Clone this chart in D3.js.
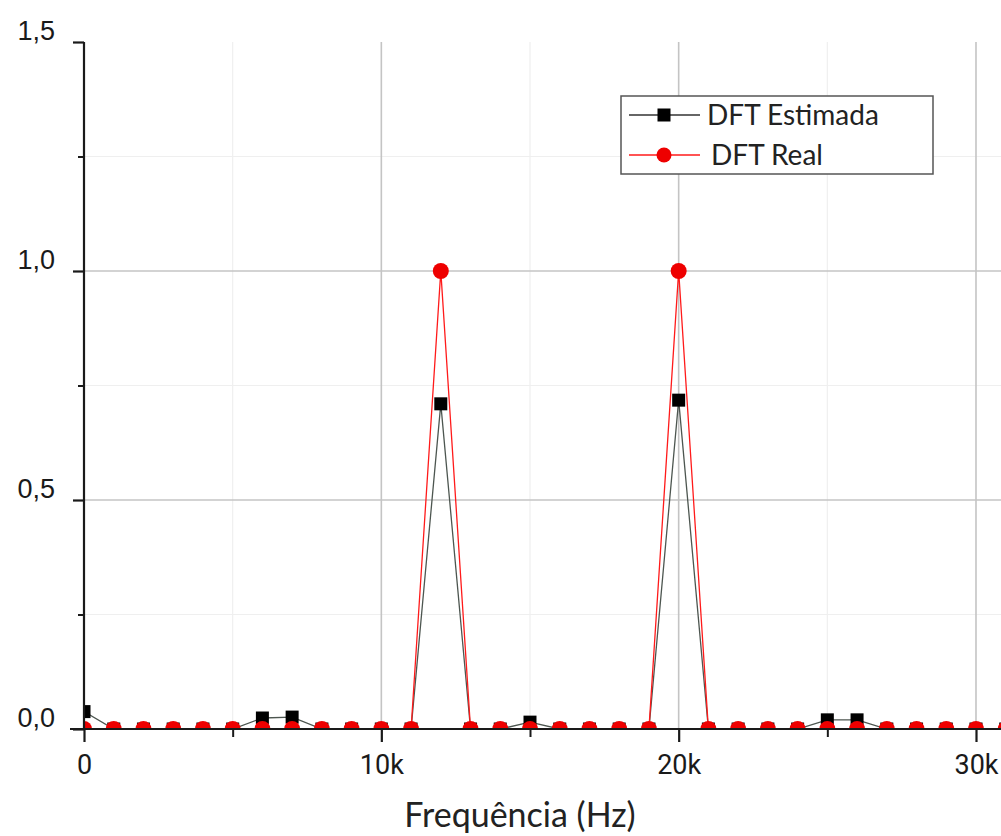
<!DOCTYPE html>
<html>
<head>
<meta charset="utf-8">
<script src="https://cdn.jsdelivr.net/npm/d3@7"></script>
<style>
  html, body { margin: 0; padding: 0; background: #fff; }
  svg { display: block; }
</style>
</head>
<body>
<svg id="chart" width="1001" height="836"></svg>
<script>
// ---- data ----
const freqs = [0,1000,2000,3000,4000,5000,6000,7000,8000,9000,10000,11000,12000,13000,14000,15000,16000,17000,18000,19000,20000,21000,22000,23000,24000,25000,26000,27000,28000,29000,30000,31000];
const dftEstimada = [0.038,0,0,0,0,0,0.024,0.026,0,0,0,0,0.71,0,0,0.015,0,0,0,0,0.718,0,0,0,0,0.02,0.02,0,0,0,0,0];
const dftReal = [0,0,0,0,0,0,0,0,0,0,0,0,1,0,0,0,0,0,0,0,1,0,0,0,0,0,0,0,0,0,0,0];
const xMajorTicks = [0,10000,20000,30000];
const xTickLabels = ["0","10k","20k","30k"];
const xMinorTicks = [5000,15000,25000];
const yMajorTicks = [0,0.5,1.0,1.5];
const yTickLabels = ["0,0","0,5","1,0","1,5"];
const yMinorTicks = [0.25,0.75,1.25];
const seriesNames = ["DFT Estimada","DFT Real"];
const xTitle = "Frequência (Hz)";

// ---- layout ----
const W = 1001, H = 836;
const x0 = 84, x30 = 976, yTop = 42, yBot = 729;
const x = d3.scaleLinear().domain([0,30000]).range([x0,x30]);
const y = d3.scaleLinear().domain([0,1.5]).range([yBot,yTop]);

const svg = d3.select("#chart");

// grid
const grid = svg.append("g");
grid.selectAll("line.vminor").data(xMinorTicks).join("line")
  .attr("x1", d=>x(d)).attr("x2", d=>x(d)).attr("y1", yTop).attr("y2", yBot)
  .attr("stroke", "#efefef").attr("stroke-width", 1.2);
grid.selectAll("line.hminor").data(yMinorTicks).join("line")
  .attr("x1", x0).attr("x2", W).attr("y1", d=>y(d)).attr("y2", d=>y(d))
  .attr("stroke", "#efefef").attr("stroke-width", 1.2);
grid.selectAll("line.vmajor").data(xMajorTicks.slice(1)).join("line")
  .attr("x1", d=>x(d)).attr("x2", d=>x(d)).attr("y1", yTop).attr("y2", yBot)
  .attr("stroke", "#c4c4c4").attr("stroke-width", 1.6);
grid.selectAll("line.hmajor").data([0.5,1.0]).join("line")
  .attr("x1", x0).attr("x2", W).attr("y1", d=>y(d)).attr("y2", d=>y(d))
  .attr("stroke", "#c4c4c4").attr("stroke-width", 1.6);

// clip
svg.append("defs").append("clipPath").attr("id","plotclip")
  .append("rect").attr("x", x0).attr("y", 0).attr("width", W - x0).attr("height", yBot + 0.5);

const plot = svg.append("g").attr("clip-path","url(#plotclip)");

const line = d3.line().x((d,i)=>x(freqs[i])).y(d=>y(d));

// Estimada series
plot.append("path").datum(dftEstimada)
  .attr("d", line).attr("fill","none").attr("stroke","#4d5650").attr("stroke-width",1.3);
plot.selectAll("rect.est").data(dftEstimada).join("rect")
  .attr("x",(d,i)=>x(freqs[i])-6.5).attr("y",d=>y(d)-6.5)
  .attr("width",13).attr("height",13).attr("fill","#000");

// Real series
plot.append("path").datum(dftReal)
  .attr("d", line).attr("fill","none").attr("stroke","#ff1a1a").attr("stroke-width",1.3);
plot.selectAll("circle.real").data(dftReal).join("circle")
  .attr("cx",(d,i)=>x(freqs[i])).attr("cy",d=>y(d))
  .attr("r",8).attr("fill","#ee0000");

// axes
const yAxis = d3.axisLeft(y).tickValues(yMajorTicks).tickSize(11).tickPadding(0)
  .tickFormat((d,i)=>yTickLabels[i]);
const gy = svg.append("g").attr("transform",`translate(${x0},0)`).call(yAxis);
gy.select(".domain").attr("stroke","#1a1a1a").attr("stroke-width",2.2)
  .attr("d",`M0,${yTop}V${yBot}`);
gy.selectAll(".tick line").attr("stroke","#1a1a1a").attr("stroke-width",2.2);
gy.selectAll(".tick text").attr("x",-29).attr("dy","-0.08em")
  .attr("font-family","'Liberation Sans', Arial, sans-serif").attr("font-size",27).attr("fill","#1a1a1a");
const yMinor = d3.axisLeft(y).tickValues(yMinorTicks).tickSize(6).tickFormat("");
const gym = svg.append("g").attr("transform",`translate(${x0},0)`).call(yMinor);
gym.select(".domain").remove();
gym.selectAll(".tick line").attr("stroke","#1a1a1a").attr("stroke-width",2);

const xAxis = d3.axisBottom(x).tickValues(xMajorTicks).tickSize(13).tickPadding(13)
  .tickFormat((d,i)=>xTickLabels[i]);
const gx = svg.append("g").attr("transform",`translate(0,${yBot})`).call(xAxis);
gx.select(".domain").attr("stroke","#1a1a1a").attr("stroke-width",1.8)
  .attr("d",`M${x0 - 14},0H${W}`);
gx.selectAll(".tick line").attr("stroke","#1a1a1a").attr("stroke-width",2.2);
gx.selectAll(".tick text")
  .attr("font-family","Roboto, 'Liberation Sans', sans-serif").attr("font-size",27).attr("fill","#1a1a1a");
const xMinor = d3.axisBottom(x).tickValues(xMinorTicks).tickSize(8).tickFormat("");
const gxm = svg.append("g").attr("transform",`translate(0,${yBot})`).call(xMinor);
gxm.select(".domain").remove();
gxm.selectAll(".tick line").attr("stroke","#1a1a1a").attr("stroke-width",2);

// axis title
svg.append("text").attr("x", 520).attr("y", 827).attr("text-anchor","middle")
  .attr("font-family","Lato, 'Open Sans', sans-serif").attr("font-size",34).attr("fill","#222")
  .text(xTitle);

// legend
const lg = svg.append("g");
lg.append("rect").attr("x",621).attr("y",96).attr("width",312).attr("height",78)
  .attr("fill","#fff").attr("stroke","#555").attr("stroke-width",1.5);
const rows = [{y:115, color:"#333", mark:"square", tx:707},{y:155, color:"#ff1a1a", mark:"circle", tx:711}];
rows.forEach((r,i)=>{
  lg.append("line").attr("x1",629).attr("x2",700).attr("y1",r.y).attr("y2",r.y)
    .attr("stroke",r.color).attr("stroke-width",1.3);
  if (r.mark==="square") {
    lg.append("rect").attr("x",664-6.5).attr("y",r.y-6.5).attr("width",13).attr("height",13).attr("fill","#000");
  } else {
    lg.append("circle").attr("cx",664).attr("cy",r.y).attr("r",7.5).attr("fill","#ee0000");
  }
  lg.append("text").attr("x",r.tx).attr("y",r.y+10)
    .attr("font-family","Lato, 'Open Sans', sans-serif").attr("font-size",28).attr("fill","#222")
    .text(seriesNames[i]);
});
</script>
</body>
</html>
